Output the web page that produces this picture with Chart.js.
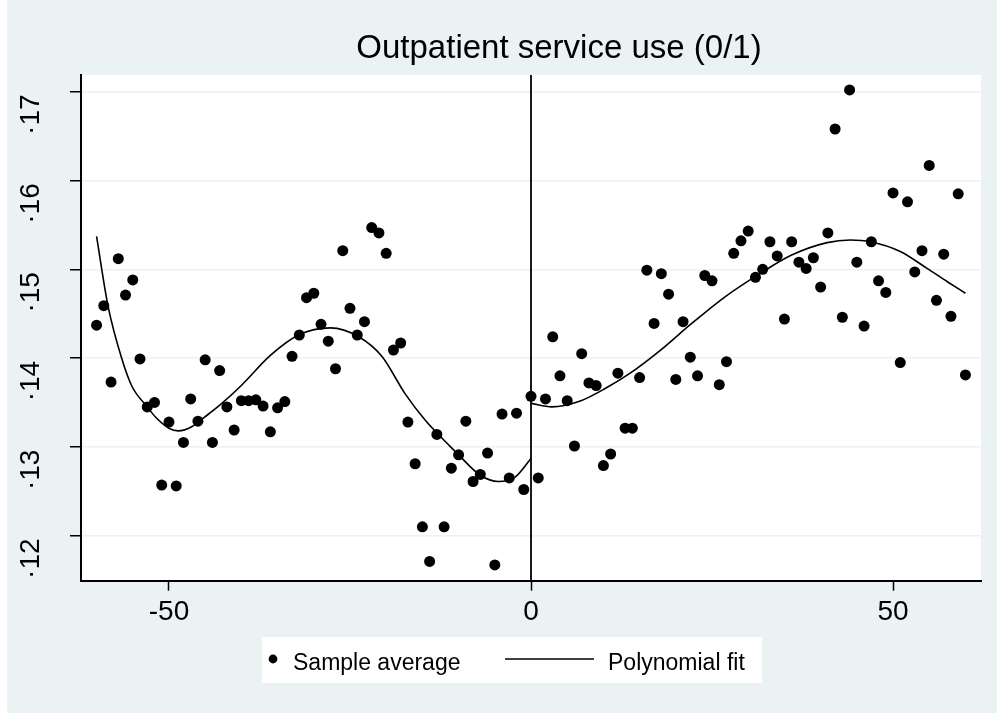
<!DOCTYPE html>
<html>
<head>
<meta charset="utf-8">
<title>Outpatient service use (0/1)</title>
<script src="https://cdn.jsdelivr.net/npm/chart.js@4.4.1/dist/chart.umd.min.js"></script>
<style>
  html, body { margin: 0; padding: 0; background: #fff; }
  #wrap { width: 997px; height: 713px; }
</style>
</head>
<body>
<div id="wrap"><canvas id="chart" width="997" height="713"></canvas></div>
<script>
// --- data ---
const sampleX = [
  -60, -59, -58, -57, -56, -55, -54, -53, -52, -51, -50, -49, -48, -47, -46, -45, -44, -43, -42, -41,
  -40, -39, -38, -37, -36, -35, -34, -33, -32, -31, -30, -29, -28, -27, -26, -25, -24, -23, -22, -21,
  -20, -19, -18, -17, -16, -15, -14, -13, -12, -11, -10, -9, -8, -7, -6, -5, -4, -3, -2, -1,
  0, 1, 2, 3, 4, 5, 6, 7, 8, 9, 10, 11, 12, 13, 14, 15, 16, 17, 18, 19,
  20, 21, 22, 23, 24, 25, 26, 27, 28, 29, 30, 31, 32, 33, 34, 35, 36, 37, 38, 39,
  40, 41, 42, 43, 44, 45, 46, 47, 48, 49, 50, 51, 52, 53, 54, 55, 56, 57, 58, 59, 60
];
const sampleY = [
  0.1437, 0.1459, 0.1373, 0.1512, 0.1471, 0.1488, 0.1399, 0.1345, 0.1350, 0.1257,
  0.1328, 0.1256, 0.1305, 0.1354, 0.1329, 0.1398, 0.1305, 0.1386, 0.1345, 0.1319,
  0.1352, 0.1352, 0.1353, 0.1346, 0.1317, 0.1344, 0.1351, 0.1402, 0.1426, 0.1468,
  0.1473, 0.1438, 0.1419, 0.1388, 0.1521, 0.1456, 0.1426, 0.1441, 0.1547, 0.1541,
  0.1518, 0.1409, 0.1417, 0.1328, 0.1281, 0.1210, 0.1171, 0.1314, 0.1210, 0.1276,
  0.1291, 0.1329, 0.1261, 0.1269, 0.1293, 0.1167, 0.1337, 0.1265, 0.1338, 0.1252,
  0.1357, 0.1265, 0.1354, 0.1424, 0.1380, 0.1352, 0.1301, 0.1405, 0.1372, 0.1369,
  0.1279, 0.1292, 0.1383, 0.1321, 0.1321, 0.1378, 0.1499, 0.1439, 0.1495, 0.1472,
  0.1376, 0.1441, 0.1401, 0.1380, 0.1493, 0.1487, 0.1370, 0.1396, 0.1518, 0.1532,
  0.1543, 0.1491, 0.1500, 0.1531, 0.1515, 0.1444, 0.1531, 0.1508, 0.1501, 0.1513,
  0.1480, 0.1541, 0.1658, 0.1446, 0.1702, 0.1508, 0.1436, 0.1531, 0.1487, 0.1474,
  0.1586, 0.1395, 0.1576, 0.1497, 0.1521, 0.1617, 0.1465, 0.1517, 0.1447, 0.1585, 0.1381
];

// fitted curve, left of the cutoff
const fitLeftX = [-60, -58.4, -56.5, -55.1, -53, -51.9, -50, -48.7, -46.8, -45, -42.7, -39.9,
  -36, -32.1, -27.7, -23.8, -20.6, -17.4, -14.6, -11.1, -10, -7, -4.5, -2.2, 0];
const fitLeftY = [0.1537, 0.1458, 0.1399, 0.1368, 0.1345, 0.1334, 0.1321, 0.1318, 0.1323, 0.1334, 0.1349, 0.1370,
  0.1403, 0.1426, 0.1434, 0.1424, 0.1402, 0.1360, 0.1330, 0.1300, 0.1291, 0.1268, 0.1261, 0.1266, 0.1287];

// fitted curve, right of the cutoff
const fitRightX = [0, 2.9, 6.6, 10.3, 13.7, 17.6, 22.2, 26.8, 31.4, 36, 40.9, 44.1, 46.9, 51, 54.7, 57.5, 60];
const fitRightY = [0.1349, 0.1345, 0.1351, 0.1366, 0.1383, 0.1407, 0.1439, 0.1469, 0.1494, 0.1516, 0.1530,
  0.1533, 0.1531, 0.1520, 0.1501, 0.1486, 0.1473];

const xTicks = [-50, 0, 50];
const yTicks = [0.12, 0.13, 0.14, 0.15, 0.16, 0.17];
const cutoff = 0;

const titleText = 'Outpatient service use (0/1)';
const labelSample = 'Sample average';
const labelFit = 'Polynomial fit';

// axis range of the plot region
const xMin = -62.15, xMax = 62.15;
const yMin = 0.11493, yMax = 0.17188;

// --- styles ---
const bgColor = '#EAF2F3';
const gridColor = '#EAF2F3';
const fontFamily = "'Liberation Sans', Arial, Helvetica, sans-serif";
const tickFontSize = 28;

function toPoints(xs, ys) {
  return xs.map((x, i) => ({ x: x, y: ys[i] }));
}

// fond bleuté + zone blanche du graphique
const backgroundPlugin = {
  id: 'background',
  beforeDraw(chart) {
    const { ctx, chartArea } = chart;
    ctx.save();
    ctx.fillStyle = bgColor;
    ctx.fillRect(0, 0, chart.width, chart.height);
    ctx.fillStyle = '#fff';
    ctx.fillRect(0, 0, 7, chart.height);
    ctx.fillRect(chartArea.left, chartArea.top, chartArea.right - chartArea.left, chartArea.bottom - chartArea.top);
    ctx.restore();
  }
};

// titre, étiquettes verticales de l'axe y et légende
const decorPlugin = {
  id: 'decor',
  afterDraw(chart) {
    const { ctx } = chart;
    const yScale = chart.scales.y;
    ctx.save();
    ctx.fillStyle = '#000';

    // title
    ctx.font = '33px ' + fontFamily;
    ctx.textAlign = 'center';
    ctx.textBaseline = 'alphabetic';
    ctx.fillText(titleText, 559, 58);

    // y tick labels, rotated
    ctx.font = tickFontSize + 'px ' + fontFamily;
    yScale.ticks.forEach(t => {
      const py = yScale.getPixelForValue(t.value);
      ctx.save();
      ctx.translate(39, py + 23);
      ctx.rotate(-Math.PI / 2);
      ctx.textAlign = 'center';
      ctx.fillText('·' + Math.round(t.value * 100), 0, 0);
      ctx.restore();
    });

    // legend
    const dsPts = chart.data.datasets[0];
    const dsFit = chart.data.datasets[1];
    ctx.fillStyle = '#fff';
    ctx.fillRect(262, 637, 500, 46);
    ctx.fillStyle = dsPts.backgroundColor;
    ctx.beginPath();
    ctx.arc(273, 659, 4.4, 0, Math.PI * 2);
    ctx.fill();
    ctx.fillStyle = '#000';
    ctx.font = '23px ' + fontFamily;
    ctx.textAlign = 'left';
    ctx.fillText(dsPts.label, 293, 670);
    ctx.strokeStyle = dsFit.borderColor;
    ctx.lineWidth = 1.6;
    ctx.beginPath();
    ctx.moveTo(505, 659);
    ctx.lineTo(594, 659);
    ctx.stroke();
    ctx.fillText(dsFit.label, 608, 670);
    ctx.restore();
  }
};

Chart.defaults.font.family = fontFamily;
Chart.defaults.color = '#000';

const ctx = document.getElementById('chart').getContext('2d');
new Chart(ctx, {
  type: 'scatter',
  data: {
    datasets: [
      {
        label: labelSample,
        data: toPoints(sampleX, sampleY),
        backgroundColor: '#000',
        borderColor: '#000',
        pointRadius: 5.5,
        pointBorderWidth: 0,
        showLine: false,
        order: 1
      },
      {
        label: labelFit,
        type: 'line',
        data: toPoints(fitLeftX, fitLeftY),
        borderColor: '#000',
        borderWidth: 1.6,
        pointRadius: 0,
        fill: false,
        cubicInterpolationMode: 'monotone',
        order: 2
      },
      {
        label: labelFit + ' (right)',
        type: 'line',
        data: toPoints(fitRightX, fitRightY),
        borderColor: '#000',
        borderWidth: 1.6,
        pointRadius: 0,
        fill: false,
        cubicInterpolationMode: 'monotone',
        order: 2
      },
      {
        label: 'cutoff',
        type: 'line',
        data: [{ x: cutoff, y: yMin }, { x: cutoff, y: yMax }],
        borderColor: '#000',
        borderWidth: 1.8,
        pointRadius: 0,
        fill: false,
        order: 3
      }
    ]
  },
  options: {
    responsive: false,
    animation: false,
    events: [],
    layout: { padding: { top: 75, left: 7, right: 16, bottom: 80 } },
    plugins: {
      legend: { display: false },
      title: { display: false },
      tooltip: { enabled: false }
    },
    scales: {
      x: {
        type: 'linear',
        min: xMin,
        max: xMax,
        afterBuildTicks: s => { s.ticks = xTicks.map(v => ({ value: v })); },
        afterFit: s => { s.height = 52.3; },
        ticks: {
          autoSkip: false,
          maxRotation: 0,
          padding: 5,
          font: { size: tickFontSize },
          callback: v => String(v)
        },
        grid: { drawOnChartArea: false, tickColor: '#000', tickLength: 10, tickWidth: 1.5 },
        border: { color: '#000', width: 2 }
      },
      y: {
        type: 'linear',
        min: yMin,
        max: yMax,
        afterBuildTicks: s => { s.ticks = yTicks.map(v => ({ value: v })); },
        afterFit: s => { s.width = 74; },
        ticks: { display: false },
        grid: { color: gridColor, lineWidth: 1.5, tickColor: '#000', tickLength: 11, tickWidth: 1.5 },
        border: { color: '#000', width: 2 }
      }
    }
  },
  plugins: [backgroundPlugin, decorPlugin]
});
</script>
</body>
</html>
